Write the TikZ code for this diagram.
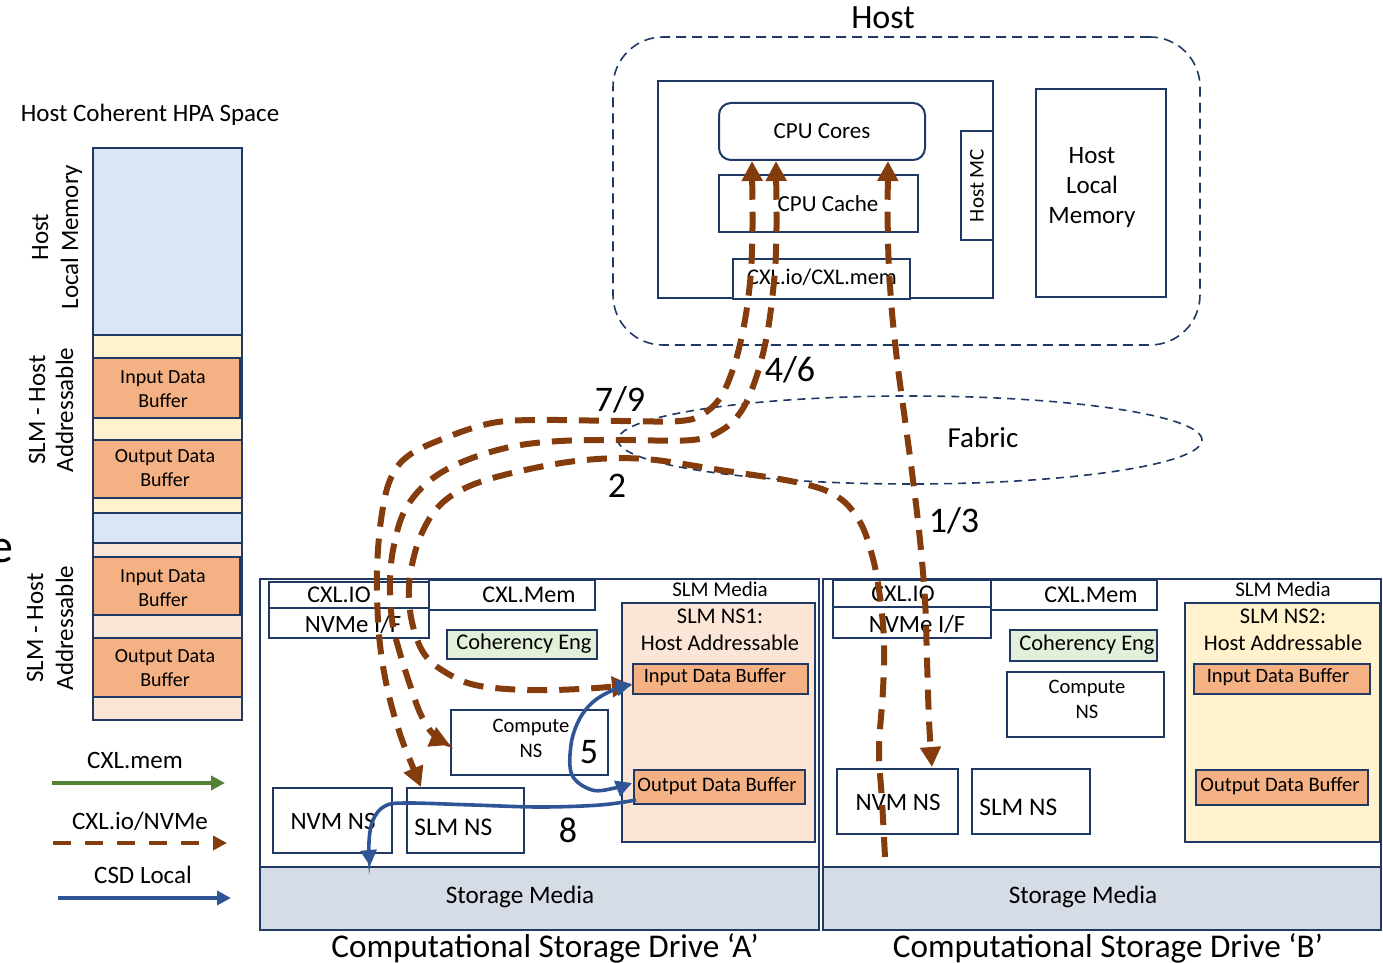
\documentclass[tikz,border=0pt]{standalone}
\usepackage{fontspec}
\setmainfont{Carlito}
\usetikzlibrary{arrows.meta,fit,shapes.geometric}
\definecolor{navy}{HTML}{1F3864}
\definecolor{lblue}{HTML}{DAE6F3}
\definecolor{lyellow}{HTML}{FFF2CC}
\definecolor{orangeb}{HTML}{F4B183}
\definecolor{peach}{HTML}{FBE5D6}
\definecolor{lgreen}{HTML}{E2F0D9}
\definecolor{stor}{HTML}{D6DCE5}
\definecolor{brownc}{HTML}{843C0C}
\definecolor{bluec}{HTML}{2F5597}
\definecolor{greenc}{HTML}{548235}
\newcommand\myfs[2]{\fontsize{#1}{#2}\selectfont}
\tikzset{
  box/.style={draw=navy, line width=1pt, inner sep=0pt},
  navydash/.style={draw=navy, line width=0.8pt, dash pattern=on 5pt off 3pt},
  brownpath/.style={draw=brownc, line width=3pt, dash pattern=on 10pt off 6pt},
  bluepath/.style={draw=bluec, line width=1.8pt},
  txt/.style={inner sep=0pt},
}
\begin{document}
\begin{tikzpicture}[x=0.5pt,y=-0.5pt]
\useasboundingbox (0,0) rectangle (1383,963);

% ---------------- Host ----------------
\node[txt, font=\myfs{17}{20}] (hosttitle) at (883,18) {Host};
\node[navydash, rounded corners=25pt, inner sep=0pt, fit={(613,37)(1200,345)}] (hostbox) {};
\node[box, fit={(658,81)(993,298)}] (cpubox) {};
\node[box, rounded corners=6pt, fit={(719,103)(925,160)}] (cores) {};
\node[txt, font=\myfs{11.5}{14}] (corest) at (822,131) {CPU Cores};
\node[box, fit={(719,175)(918,232)}] (cache) {};
\node[txt, font=\myfs{11.5}{14}] (cachet) at (828,204) {CPU Cache};
\node[box, fill=white, fit={(961,131)(993,240)}] (hostmc) {};
\node[txt, rotate=90, font=\myfs{10.5}{12}] (hostmct) at (hostmc.center) {Host MC};
\node[box, fill=white, fit={(733,259)(910,299)}] (hcxl) {};
\node[txt, font=\myfs{11.2}{13}] (hcxlt) at (822,277) {CXL.io/CXL.mem};
\node[box, fit={(1036,89)(1166,297)}] (hlm) {};
\node[txt, align=center, font=\myfs{12.5}{15}] (hlmt) at (1092,187) {Host\\Local\\Memory};

% ---------------- Fabric ----------------
\node[navydash, dash pattern=on 4pt off 3pt, ellipse, minimum width=292pt, minimum height=44pt, inner sep=0pt] (fabric) at (910,440) {};
\node[txt, font=\myfs{14.5}{17}] (fabrict) at (983,438) {Fabric};

% ---------------- HPA column ----------------
\node[txt, font=\myfs{12.5}{15}] (hpat) at (150,115) {Host Coherent HPA Space};
\node[box, fill=lblue, fit={(93,148)(242,335)}] (hlmseg) {};
\node[box, fill=lyellow, fit={(93,335)(242,513)}] (slm1seg) {};
\node[box, fill=orangeb, fit={(93,358)(240,418)}] (in1) {};
\node[txt, align=center, font=\myfs{10}{12}] (in1t) at (163,389) {Input Data\\Buffer};
\node[box, fill=orangeb, fit={(93,440)(242,498)}] (out1) {};
\node[txt, align=center, font=\myfs{10}{12}] (out1t) at (165,468) {Output Data\\Buffer};
\node[box, fill=lblue, fit={(93,513)(242,543)}] (gapseg) {};
\node[box, fill=peach, fit={(93,543)(242,720)}] (slm2seg) {};
\node[box, fill=orangeb, fit={(93,557)(240,615)}] (in2) {};
\node[txt, align=center, font=\myfs{10}{12}] (in2t) at (163,588) {Input Data\\Buffer};
\node[box, fill=orangeb, fit={(93,638)(242,697)}] (out2) {};
\node[txt, align=center, font=\myfs{10}{12}] (out2t) at (165,668) {Output Data\\Buffer};
\node[txt, rotate=90, align=center, font=\myfs{12.5}{15}] (lab1) at (57,237) {Host\\Local Memory};
\node[txt, rotate=90, align=center, font=\myfs{12.5}{14}] (lab2) at (51,410) {SLM - Host\\Addressable};
\node[txt, rotate=90, align=center, font=\myfs{12.5}{15}] (lab3) at (50,628) {SLM - Host\\Addressable};
\node[txt, font=\myfs{24}{28}] (efrag) at (1,551) {e};

% ---------------- Legend ----------------
\node[txt, font=\myfs{12.5}{15}] (lgmem) at (135,760) {CXL.mem};
\coordinate (lg1a) at (52,783); \coordinate (lg1b) at (225,783);
\draw[draw=greenc, line width=2pt, arrows={-Triangle[length=7pt,width=7pt]}] (lg1a) -- (lg1b);
\node[txt, font=\myfs{12.5}{15}] (lgio) at (140,821) {CXL.io/NVMe};
\coordinate (lg2a) at (53,843); \coordinate (lg2b) at (227,843);
\draw[draw=brownc, line width=2.2pt, dash pattern=on 9pt off 7pt, arrows={-Triangle[length=7pt,width=7pt]}] (lg2a) -- (lg2b);
\node[txt, font=\myfs{12.5}{15}] (lgcsd) at (143,875) {CSD Local};
\coordinate (lg3a) at (58,898); \coordinate (lg3b) at (231,898);
\draw[draw=bluec, line width=2pt, arrows={-Triangle[length=7pt,width=7pt]}] (lg3a) -- (lg3b);

% ---------------- Drive A ----------------
\node[box, fit={(260,579)(819,930)}] (driveA) {};
\node[box, fill=stor, fit={(260,867)(819,930)}] (storA) {};
\node[txt, font=\myfs{12.6}{15}] (storAt) at (520,897) {Storage Media};
\node[box, fit={(269,582)(429,608)}] (cxlioA) {};
\node[txt, font=\myfs{12}{14}] (cxlioAt) at (339,595) {CXL.IO};
\node[box, fit={(269,608)(429,638)}] (nvmeA) {};
\node[txt, font=\myfs{12.4}{14}] (nvmeAt) at (353,624) {NVMe I/F};
\node[box, fit={(429,580)(595,610)}] (cxlmemA) {};
\node[txt, font=\myfs{12}{14}] (cxlmemAt) at (529,595) {CXL.Mem};
\node[txt, font=\myfs{10.5}{12}] (slmmedA) at (720,589) {SLM Media};
\node[box, fill=peach, fit={(622,603)(815,842)}] (ns1) {};
\node[txt, align=center, font=\myfs{11.2}{13.5}] (ns1t) at (720,630) {SLM NS1:\\Host Addressable};
\node[box, fill=orangeb, fit={(633,664)(808,694)}] (inA) {};
\node[txt, font=\myfs{10.2}{12}] (inAt) at (715,677) {Input Data Buffer};
\node[box, fill=orangeb, fit={(634,770)(805,804)}] (outA) {};
\node[txt, font=\myfs{10.3}{12}] (outAt) at (717,786) {Output Data Buffer};
\node[box, fill=lgreen, fit={(447,630)(597,659)}] (cohA) {};
\node[txt, font=\myfs{11.2}{13}] (cohAt) at (524,644) {Coherency Eng};
\node[box, fit={(451,710)(608,775)}] (compA) {};
\node[txt, align=center, font=\myfs{10.3}{12.5}] (compAt) at (531,738) {Compute\\NS};
\node[box, fit={(273,788)(392,853)}] (nvmA) {};
\node[txt, font=\myfs{12.5}{15}] (nvmAt) at (333,821) {NVM NS};
\node[box, fit={(407,788)(524,853)}] (slmA) {};
\node[txt, anchor=west, font=\myfs{12.7}{15}] (slmAt) at (414,827) {SLM NS};
\node[txt, font=\myfs{16.6}{20}] (capA) at (545,948) {Computational Storage Drive ‘A’};

% ---------------- Drive B ----------------
\node[box, fit={(823,579)(1381,930)}] (driveB) {};
\node[box, fill=stor, fit={(823,867)(1381,930)}] (storB) {};
\node[txt, font=\myfs{12.6}{15}] (storBt) at (1083,897) {Storage Media};
\node[box, fit={(833,580)(991,607)}] (cxlioB) {};
\node[txt, font=\myfs{12}{14}] (cxlioBt) at (903,594) {CXL.IO};
\node[box, fit={(833,607)(991,638)}] (nvmeB) {};
\node[txt, font=\myfs{12.4}{14}] (nvmeBt) at (917,624) {NVMe I/F};
\node[box, fit={(991,580)(1157,610)}] (cxlmemB) {};
\node[txt, font=\myfs{12}{14}] (cxlmemBt) at (1091,595) {CXL.Mem};
\node[txt, font=\myfs{10.5}{12}] (slmmedB) at (1283,589) {SLM Media};
\node[box, fill=lyellow, fit={(1185,603)(1380,842)}] (ns2) {};
\node[txt, align=center, font=\myfs{11.2}{13.5}] (ns2t) at (1283,630) {SLM NS2:\\Host Addressable};
\node[box, fill=orangeb, fit={(1194,664)(1370,694)}] (inB) {};
\node[txt, font=\myfs{10.2}{12}] (inBt) at (1278,677) {Input Data Buffer};
\node[box, fill=orangeb, fit={(1196,770)(1368,805)}] (outB) {};
\node[txt, font=\myfs{10.3}{12}] (outBt) at (1280,786) {Output Data Buffer};
\node[box, fill=lgreen, fit={(1010,630)(1157,661)}] (cohB) {};
\node[txt, font=\myfs{11.2}{13}] (cohBt) at (1087,645) {Coherency Eng};
\node[box, fit={(1007,672)(1164,737)}] (compB) {};
\node[txt, align=center, font=\myfs{10.3}{12.5}] (compBt) at (1087,699) {Compute\\NS};
\node[box, fit={(837,769)(958,834)}] (nvmB) {};
\node[txt, font=\myfs{12.5}{15}] (nvmBt) at (898,802) {NVM NS};
\node[box, fit={(972,769)(1090,834)}] (slmB) {};
\node[txt, anchor=west, font=\myfs{12.7}{15}] (slmBt) at (979,807) {SLM NS};
\node[txt, font=\myfs{16.6}{20}] (capB) at (1108,948) {Computational Storage Drive ‘B’};

% ---------------- step labels ----------------
\node[txt, font=\myfs{18}{21}] (l46) at (790,370) {4/6};
\node[txt, font=\myfs{18}{21}] (l79) at (620,400) {7/9};
\node[txt, font=\myfs{18}{21}] (l2) at (617,486) {2};
\node[txt, font=\myfs{18}{21}] (l13) at (954,521) {1/3};
\node[txt, font=\myfs{18}{21}] (l5) at (589,752) {5};
\node[txt, font=\myfs{18}{21}] (l8) at (568,830) {8};

% ---------------- CXL.io / NVMe paths ----------------
\coordinate (a13) at (888,161);
\coordinate (b13) at (932,767);
\draw[brownpath, arrows={Triangle[length=10pt,width=10pt]-Triangle[length=10pt,width=10pt]}]
  plot[smooth, tension=0.6] coordinates {(a13) (888,240) (891,300) (897,360) (905,420) (913,480) (920,540) (925,600) (927,660) (929,720) (b13)};

\coordinate (a79) at (752,161);
\coordinate (b79) at (421,787);
\draw[brownpath, arrows={Triangle[length=10pt,width=10pt]-Triangle[length=10pt,width=10pt]}]
  plot[smooth, tension=0.6] coordinates {(a79) (752,250) (748,300) (741,340) (732,372) (720,398) (703,414) (680,421) (620,421) (540,420) (492,423) (445,438) (408,456) (390,480) (381,520) (377,570) (378,620) (382,660) (390,700) (401,737) (412,765) (b79)};

\coordinate (a46) at (776,161);
\coordinate (b46) at (450,745);
\draw[brownpath, arrows={Triangle[length=10pt,width=10pt]-Triangle[length=10pt,width=10pt]}]
  plot[smooth, tension=0.6] coordinates {(a46) (776,250) (772,300) (766,340) (756,378) (742,410) (722,430) (692,440) (620,440) (560,441) (510,447) (462,462) (428,482) (405,510) (394,545) (390,580) (392,620) (399,650) (410,685) (421,715) (434,735) (b46)};

\coordinate (a2) at (885,857);
\coordinate (b2) at (632,685);
\draw[brownpath, arrows={-Triangle[length=10pt,width=10pt]}]
  plot[smooth, tension=0.6] coordinates {(a2) (882,800) (879,750) (883,690) (884,640) (879,590) (872,555) (860,522) (838,497) (800,483) (720,470) (645,459) (585,460) (525,470) (472,485) (440,505) (421,535) (411,570) (409,600) (414,630) (425,655) (445,672) (475,685) (525,690) (580,689) (b2)};

% ---------------- CSD local paths ----------------
\coordinate (a5) at (632,684);
\coordinate (b5) at (632,783);
\draw[bluepath, arrows={Triangle[length=8pt,width=8pt]-Triangle[length=8pt,width=8pt]}]
  plot[smooth, tension=0.6] coordinates {(a5) (613,690) (593,702) (579,720) (571,745) (572,775) (592,790) (615,788) (b5)};

\coordinate (a8) at (636,800);
\coordinate (b8) at (370,866);
\draw[bluepath, arrows={-Triangle[length=8pt,width=8pt]}]
  plot[smooth, tension=0.6] coordinates {(a8) (600,805) (540,807) (473,805) (407,803) (385,806) (373,820) (369,842) (b8)};

\end{tikzpicture}
\end{document}
